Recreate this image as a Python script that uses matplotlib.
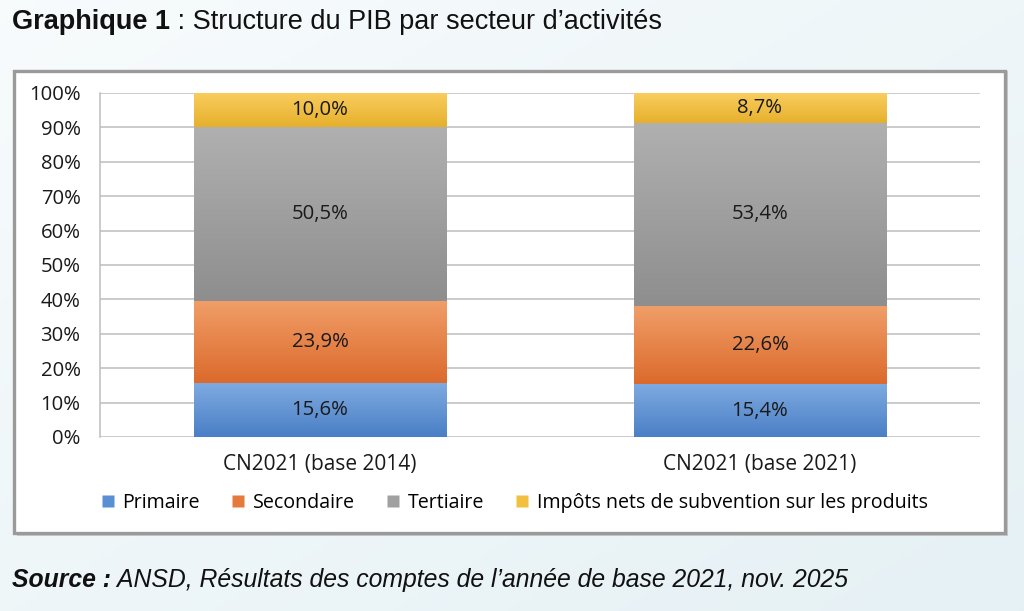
import numpy as np
import matplotlib.pyplot as plt
from matplotlib.patches import Rectangle
from matplotlib.lines import Line2D
from matplotlib.colors import to_rgb

categories = ["CN2021 (base 2014)", "CN2021 (base 2021)"]
series = ["Primaire", "Secondaire", "Tertiaire", "Impôts nets de subvention sur les produits"]
primaire = [15.6, 15.4]
secondaire = [23.9, 22.6]
tertiaire = [50.5, 53.4]
impots = [10.0, 8.7]
labels = [["15,6%", "15,4%"], ["23,9%", "22,6%"], ["50,5%", "53,4%"], ["10,0%", "8,7%"]]

# couleurs haut / bas du dégradé
couleurs = [("#7eaae0", "#4a7fc6"), ("#f09e68", "#dc6a2c"),
            ("#b0b0b0", "#8e8e8e"), ("#f9cd5e", "#e6b02c")]
legend_cols = ["#5b8fd4", "#e57a3c", "#a0a0a0", "#f2c040"]

W, H = 1024, 611
police = "Open Sans"
taille = 14.6
fig = plt.figure(figsize=(W / 100, H / 100), dpi=100)

# fond bleuté
bg = fig.add_axes([0, 0, 1, 1], zorder=-10)
gx = np.linspace(0, 1, 200)
gy = np.linspace(0, 1, 120)
GX, GY = np.meshgrid(gx, gy)
grad = 0.5 * GX + 0.5 * GY
c0 = np.array([0.97, 0.985, 0.99])
c1 = np.array([0.90, 0.945, 0.96])
img = c0[None, None, :] * (1 - grad[..., None]) + c1[None, None, :] * grad[..., None]
bg.imshow(img, extent=[0, 1, 0, 1], aspect="auto", origin="upper")
bg.set_axis_off()


def fx(px):
    return px / W


def fy(py):
    return 1 - py / H


# cadre du graphique
fig.patches.append(Rectangle((fx(17), fy(536)), fx(991), 465 / H, transform=fig.transFigure,
                             facecolor="#c8cdd0", edgecolor="none", zorder=-5))
fig.patches.append(Rectangle((fx(14), fy(533)), fx(991), 462 / H, transform=fig.transFigure,
                             facecolor="white", edgecolor="#9a9a9a", lw=2.4, zorder=-4))

ax = fig.add_axes([fx(100), fy(437), fx(880), 344 / H])
ax.set_facecolor("none")
x = np.arange(len(categories))
bottom = np.zeros(len(categories))
valeurs = [primaire, secondaire, tertiaire, impots]
for i, vals in enumerate(valeurs):
    bars = ax.bar(x, vals, 0.575, bottom=bottom, color="none", edgecolor="none", zorder=3)
    top_c = np.array(to_rgb(couleurs[i][0]))
    bot_c = np.array(to_rgb(couleurs[i][1]))
    t = np.linspace(0, 1, 100)[:, None]
    g = (top_c[None, :] * (1 - t) + bot_c[None, :] * t)[:, None, :]
    for j, b in enumerate(bars):
        x0, y0, w, h = b.get_x(), b.get_y(), b.get_width(), b.get_height()
        im = ax.imshow(g, extent=[x0, x0 + w, y0, y0 + h], aspect="auto", origin="upper", zorder=2)
        im.set_clip_path(b)
        ax.text(x0 + w / 2, y0 + h / 2, labels[i][j], ha="center", va="center",
                fontsize=taille, family=police, color="#1a1a1a", zorder=4)
    bottom += np.array(vals)

ax.set_xlim(-0.5, 1.5)
ax.set_ylim(0, 100)
ax.set_yticks(np.arange(0, 101, 10))
ax.set_yticklabels([f"{v}%" for v in range(0, 101, 10)], family=police, fontsize=taille, color="#1a1a1a")
ax.set_xticks(x)
ax.set_xticklabels(categories, family=police, fontsize=taille + 0.4, color="#1a1a1a")
ax.tick_params(length=0)
ax.tick_params(axis="y", pad=14)
ax.tick_params(axis="x", pad=12)
ax.grid(axis="y", color="#bdbdbd", lw=1.1, zorder=0)
ax.set_axisbelow(True)
for s in ["top", "right", "bottom"]:
    ax.spines[s].set_visible(False)
ax.spines["left"].set_color("#bdbdbd")
ax.spines["left"].set_linewidth(1.1)

handles = [Line2D([], [], marker="s", ls="none", markersize=9, markerfacecolor=c, markeredgecolor="none")
           for c in legend_cols]
fig.legend(handles, series, loc="center", bbox_to_anchor=(fx(514), fy(503)), ncol=4, frameon=False,
           handlelength=0.8, handletextpad=0.35, columnspacing=1.55, prop={"family": police, "size": 14.1})

# titre et source : deux morceaux collés l'un à l'autre
fig.canvas.draw()
r = fig.canvas.get_renderer()
t1 = fig.text(fx(12), fy(22), "Graphique 1", fontsize=19.5, fontweight="bold", family="Liberation Sans",
              va="center", ha="left", color="#111111")
bb = t1.get_window_extent(r)
fig.text(bb.x1 / W, fy(22), " : Structure du PIB par secteur d\u2019activités", fontsize=19.5,
         family="Liberation Sans", va="center", ha="left", color="#111111")
t2 = fig.text(fx(12), fy(580), "Source :", fontsize=17.8, fontweight="bold", style="italic",
              family="Liberation Sans", va="center", ha="left", color="#111111")
bb = t2.get_window_extent(r)
fig.text(bb.x1 / W, fy(580), " ANSD, Résultats des comptes de l\u2019année de base 2021, nov. 2025", fontsize=17.8,
         style="italic", family="Liberation Sans", va="center", ha="left", color="#111111")

fig.savefig("out.png", dpi=100)
